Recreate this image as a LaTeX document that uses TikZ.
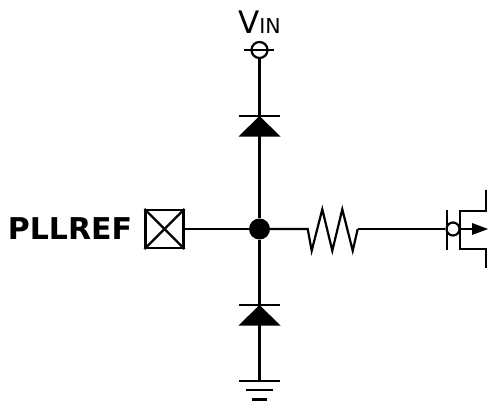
\documentclass[tikz,border=0pt]{standalone}
\usepackage{fontspec}
\setmainfont{DejaVu Sans}
\usetikzlibrary{calc}
\tikzset{
  wire/.style={line width=2.2pt},
  termcircle/.style={circle, draw, line width=2.2pt, fill=white, inner sep=0pt, minimum size=#1},
  junctiondot/.style={circle, fill=black, inner sep=0pt, minimum size=21pt},
  padbox/.style={rectangle, draw, line width=2.2pt, inner sep=0pt, minimum size=38pt},
  diodefill/.style={fill=black, draw=none}
}
\begin{document}
\begin{tikzpicture}[x=1pt, y=-1pt]
  \useasboundingbox (0, 0) rectangle (489, 401);

  % Supply terminal
  \node (vinlabel) at (259.5, 22) {\fontsize{31}{31}\selectfont V\fontsize{20.5}{20.5}\selectfont IN};
  \node[termcircle=16pt] (vin) at (259.5, 50) {};
  \draw[wire] (244, 50) -- (274, 50);

  % Main nodes
  \node[junctiondot] (junction) at (259.5, 229) {};
  \node[padbox] (pad) at (164.5, 229) {};
  \draw[wire] (pad.north west) -- (pad.south east);
  \draw[wire] (pad.south west) -- (pad.north east);
  \node (padlabel) at (70, 229) {\fontsize{30}{30}\selectfont\bfseries PLLREF};
  \draw[wire] (pad) -- (junction);

  % Upper diode
  \coordinate (topk) at (259.5, 116);
  \draw[wire] (vin) -- (junction);
  \draw[wire] (239, 116) -- (279.5, 116);
  \fill[diodefill] (topk) -- (280.5, 136.5) -- (238.5, 136.5) -- cycle;

  % Lower diode
  \coordinate (botk) at (259.5, 305);
  \coordinate (gnd) at (259.5, 381);
  \draw[wire] (junction) -- (gnd);
  \draw[wire] (239, 305) -- (279.5, 305);
  \fill[diodefill] (botk) -- (280.5, 325.5) -- (238.5, 325.5) -- cycle;

  % Ground
  \draw[wire] (239, 381) -- (279.5, 381);
  \draw[wire] (245.5, 390) -- (273, 390);
  \draw[wire] (252, 399.5) -- (266.5, 399.5);

  % Resistor
  \coordinate (resin) at (307.7, 229);
  \coordinate (resout) at (357.7, 229);
  \draw[wire, line join=miter] (junction) -- (resin) -- (311.7, 250.7) -- (322.3, 209.3)
     -- (332.3, 250.7) -- (342.3, 209.3) -- (352.7, 250.7) -- (resout);

  % Transistor
  \node[termcircle=13pt] (gatec) at (453, 229) {};
  \draw[wire] (resout) -- (gatec);
  \draw[wire] (447.3, 210) -- (447.3, 249.5);
  \draw[wire] (485.7, 190) -- (485.7, 210.7) -- (460, 210.7) -- (460, 249.3) -- (485.7, 249.3) -- (485.7, 268);
  \draw[wire] (gatec) -- (472, 229);
  \fill[diodefill] (488, 229) -- (472, 223) -- (472, 235) -- cycle;
\end{tikzpicture}
\end{document}
